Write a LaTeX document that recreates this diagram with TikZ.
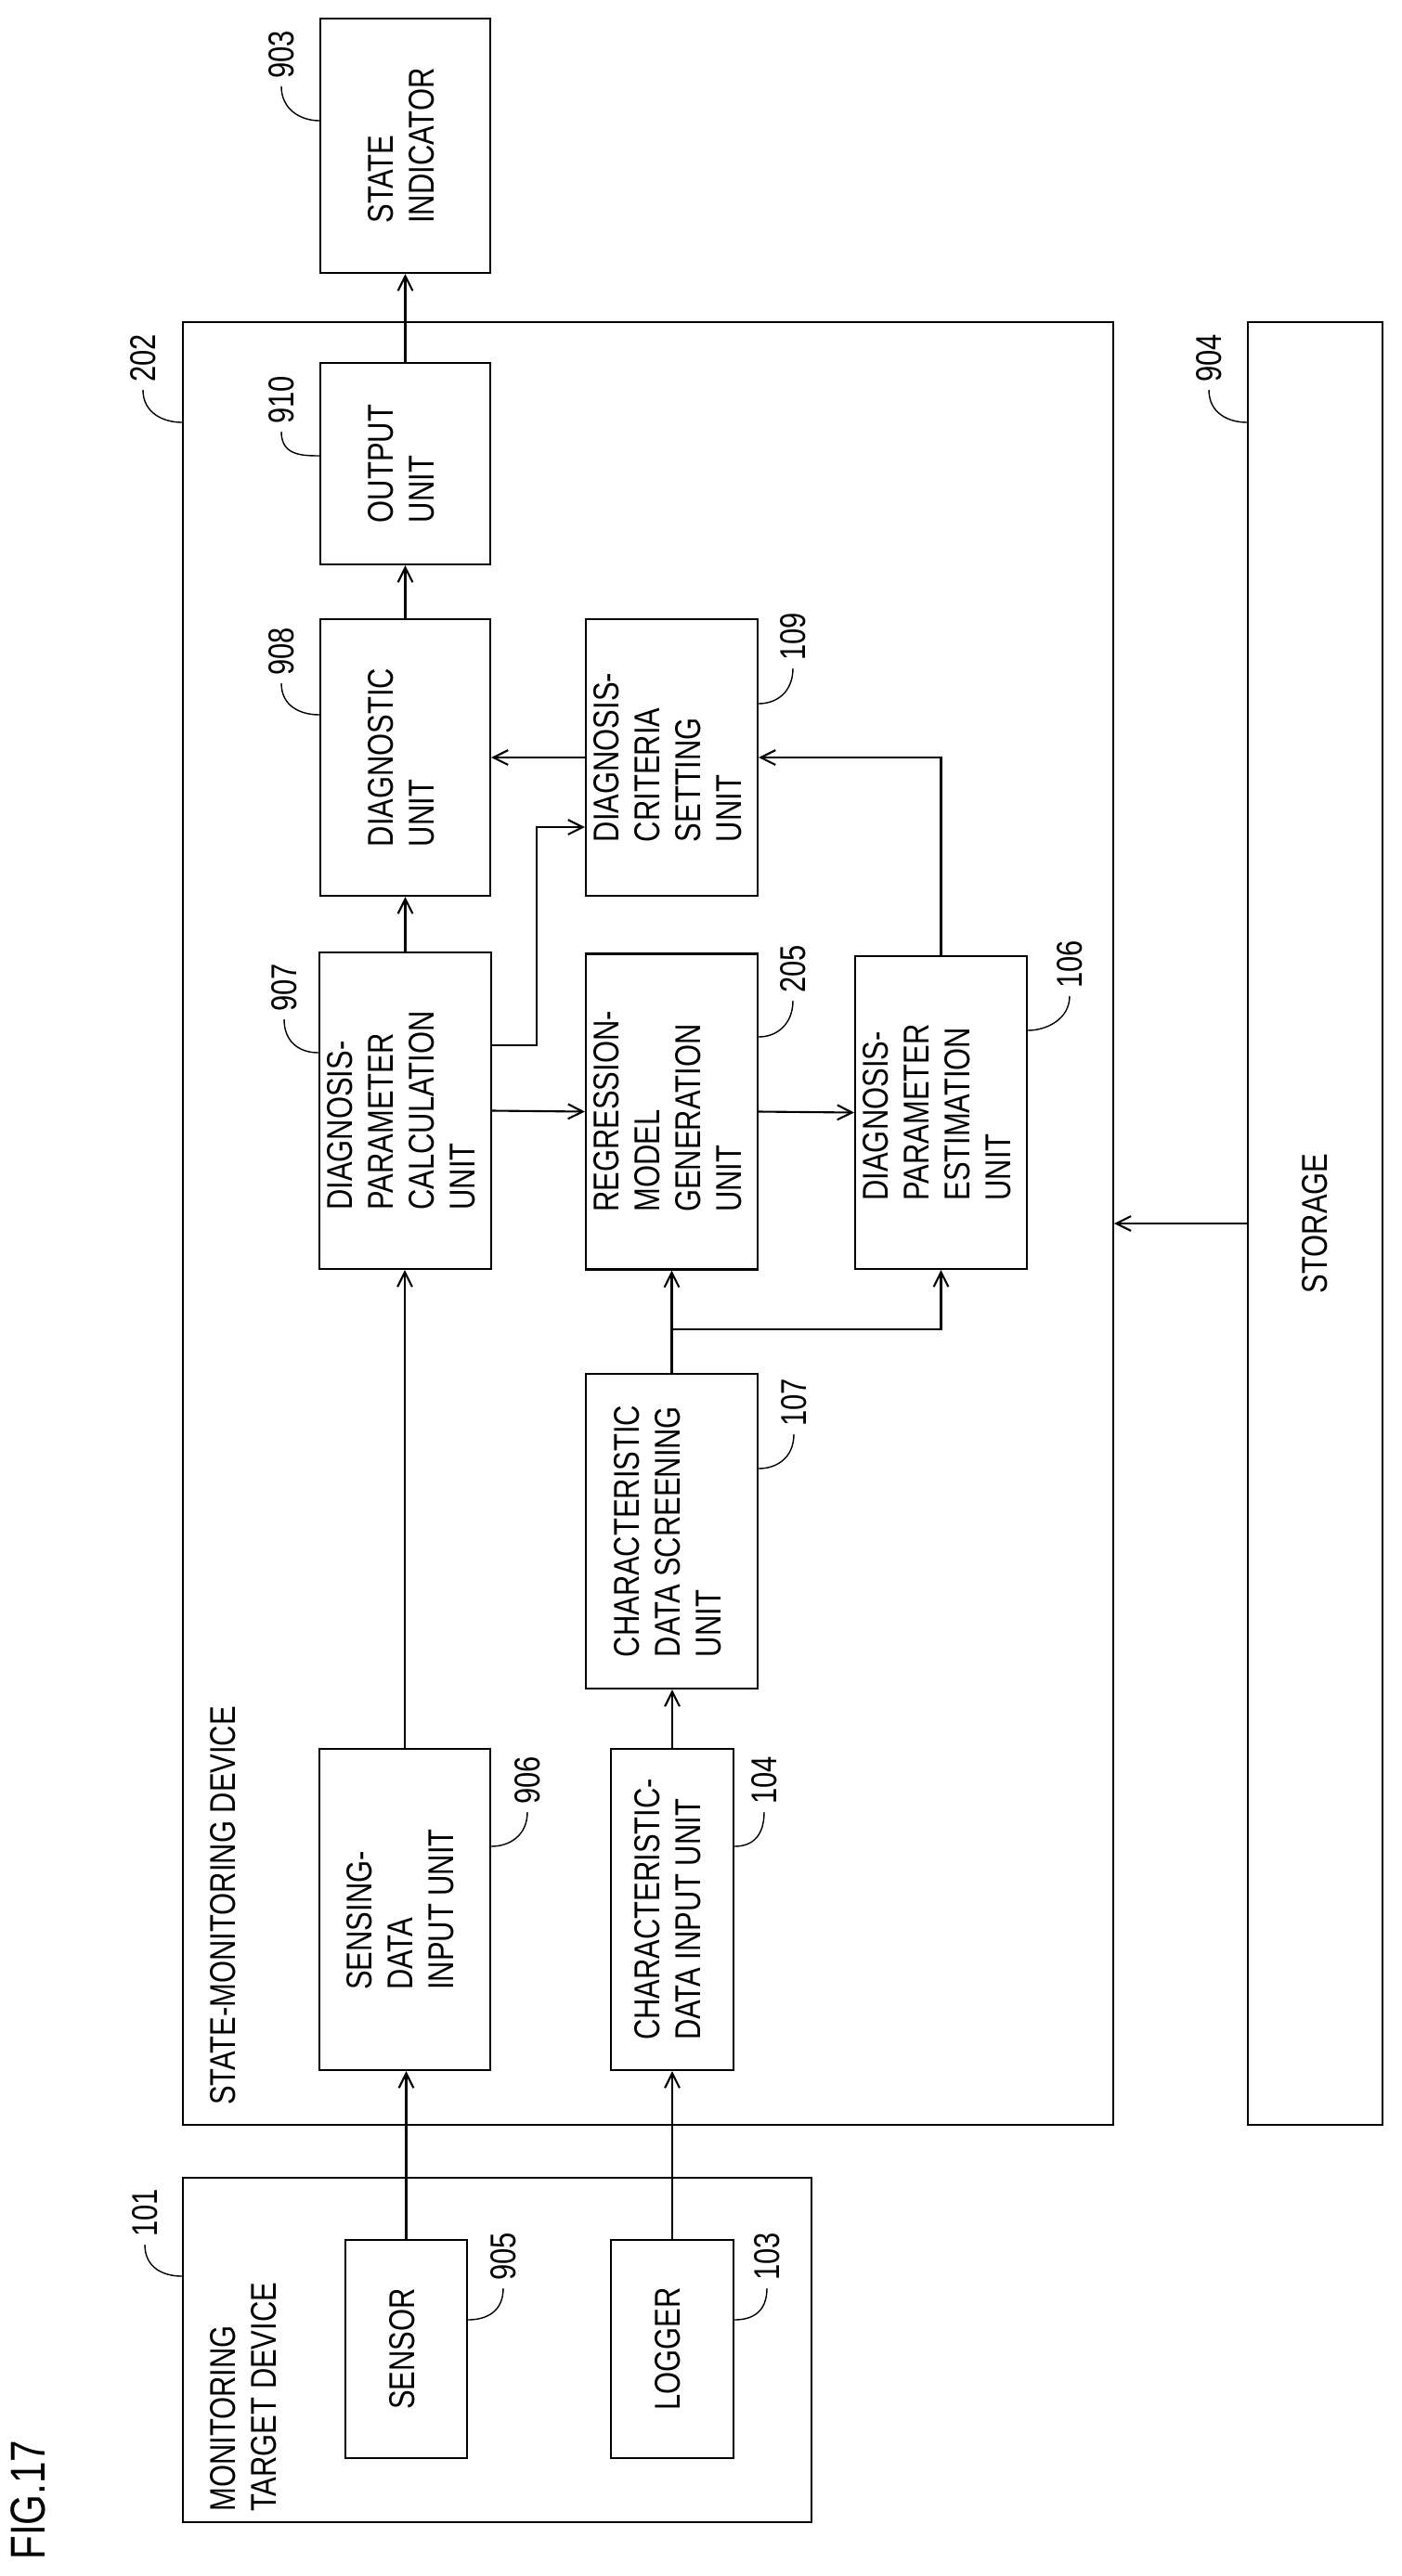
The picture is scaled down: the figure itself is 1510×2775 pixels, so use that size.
\documentclass[tikz,border=0pt]{standalone}
\usepackage{fontspec}
\setmainfont{Liberation Sans}[FakeStretch=0.8]
\usepackage{graphicx}
\usetikzlibrary{arrows.meta,calc}

\tikzset{
  box/.style={draw,line width=1.2pt,inner sep=0pt},
  flow/.style={line width=1.2pt,-{Straight Barb[length=9pt,width=9pt]}},
  lead/.style={line width=0.8pt},
  num/.style={rotate=90,anchor=west,inner sep=0pt},
}
\newcommand{\vtext}[1]{\rotatebox{90}{\begin{tabular}{@{}l@{}}#1\end{tabular}}}

\begin{document}
\begin{tikzpicture}[x=0.02cm,y=-0.02cm,font=\fontsize{22}{25}\selectfont]
    \useasboundingbox (0,0) rectangle (1510,2775);

    %/ Outer frames
    \node[box,minimum width=20.04cm,minimum height=38.84cm] (dev) at (698,1318) {};
    \node[box,minimum width=13.54cm,minimum height=7.42cm] (mon) at (535.5,2531.5) {};
    \node[box,minimum width=2.9cm,minimum height=38.84cm] (sto) at (1416.5,1318) {\rotatebox{90}{STORAGE}};
    \node[rotate=90,anchor=north west,inner sep=0pt,align=left] at (226,2706) {MONITORING\\TARGET DEVICE};
    \node[rotate=90,anchor=north west,inner sep=0pt] at (226,2268) {STATE-MONITORING DEVICE};
    \node[rotate=90,anchor=west,inner sep=0pt,font=\fontsize{30}{32}\selectfont] at (30,2758) {FIG.17};

    %/ Units
    \node[box,minimum width=2.62cm,minimum height=4.7cm] (sensor) at (437.5,2530.5) {\vtext{SENSOR}};
    \node[box,minimum width=2.64cm,minimum height=4.7cm] (logger) at (724,2530.5) {\vtext{LOGGER}};
    \node[box,minimum width=3.68cm,minimum height=6.92cm] (sens) at (436,2057) {\vtext{SENSING-\\DATA\\INPUT UNIT}};
    \node[box,minimum width=2.64cm,minimum height=6.92cm] (chin) at (724,2057) {\vtext{CHARACTERISTIC-\\DATA INPUT UNIT}};
    \node[box,minimum width=3.7cm,minimum height=6.78cm] (scr) at (723.5,1649.5) {\vtext{CHARACTERISTIC\\DATA SCREENING\\UNIT}};
    \node[box,minimum width=3.7cm,minimum height=6.82cm] (calc) at (436.5,1196.5) {\vtext{DIAGNOSIS-\\PARAMETER\\CALCULATION\\UNIT}};
    \node[box,minimum width=3.7cm,minimum height=6.8cm] (reg) at (723.5,1197.5) {\vtext{REGRESSION-\\MODEL\\GENERATION\\UNIT}};
    \node[box,minimum width=3.7cm,minimum height=6.74cm] (est) at (1013.5,1198.5) {\vtext{DIAGNOSIS-\\PARAMETER\\ESTIMATION\\UNIT}};
    \node[box,minimum width=3.66cm,minimum height=5.96cm] (diag) at (436.5,816) {\vtext{DIAGNOSTIC\\UNIT}};
    \node[box,minimum width=3.7cm,minimum height=5.96cm] (crit) at (723.5,816) {\vtext{DIAGNOSIS-\\CRITERIA\\SETTING\\UNIT}};
    \node[box,minimum width=3.66cm,minimum height=4.34cm] (out) at (436.5,499.5) {\vtext{OUTPUT\\UNIT}};
    \node[box,minimum width=3.66cm,minimum height=5.48cm] (ind) at (436.5,157) {\vtext{STATE\\INDICATOR}};

    %/ Flows
    \draw[flow] (sensor.north) -- (sensor.north |- sens.south);
    \draw[flow] (logger.north) -- (logger.north |- chin.south);
    \draw[flow] (chin.north) -- (chin.north |- scr.south);
    \draw[flow] (sens.north) -- (sens.north |- calc.south);
    \coordinate (br) at (723.5,1432);
    \draw[flow] (scr.north) -- (br) -- (reg.south);
    \draw[flow] (br) -| (est.south);
    \draw[flow] (calc.east) -- (reg.west);
    \draw[flow] (reg.east) -- (est.west);
    \coordinate (cr) at (578,1126);
    \draw[flow] (calc.east |- cr) -- (cr) |- (crit.west |- 0,891);
    \draw[flow] (est.north) |- (crit.east);
    \draw[flow] (crit.west) -- (diag.east);
    \draw[flow] (calc.north) -- (diag.south);
    \draw[flow] (diag.north) -- (out.south);
    \draw[flow] (out.north) -- (ind.south);
    \draw[flow,{Straight Barb[length=9pt,width=9pt]}-] (dev.east) -- (sto.west);

    %/ Reference numerals
    \foreach \num/\x/\y/\unit/\side/\yy/\dx in {
      903/303/85/ind/west/130/-20,
      202/154/412/dev/west/455/-20,
      910/303/457/out/west/491/-20,
      904/1302/412/sto/west/455/-20,
      908/303/728/diag/west/770/-20,
      109/854/712/crit/east/758/20,
      907/306/1090/calc/west/1134/-20,
      205/854/1070/reg/east/1117/20,
      106/1152/1065/est/east/1110/20,
      107/855/1537/scr/east/1582/20,
      906/568/1944/sens/east/1989/20,
      104/823/1944/chin/east/1989/20,
      101/156/2410/mon/west/2452/-20,
      905/542/2457/sensor/east/2499/20,
      103/826/2457/logger/east/2499/20}
    {
      \node[num] (n\num) at (\x,\y) {\num};
      \draw[lead] ($(n\num.west)+(0,8)$) .. controls +(0,25) and +(\dx,0) .. (\unit.\side |- 0,\yy);
    }
\end{tikzpicture}
\end{document}
